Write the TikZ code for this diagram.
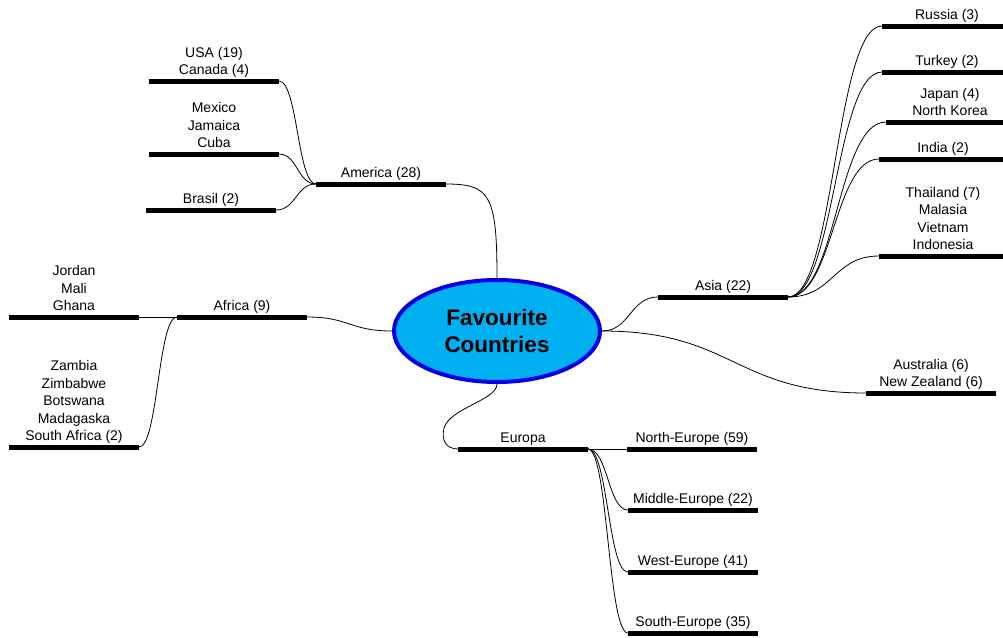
\documentclass[tikz,border=0pt]{standalone}
\usepackage{fontspec}
\setmainfont{Liberation Sans}
\usetikzlibrary{calc,shapes.geometric}
\definecolor{rootfill}{RGB}{0,176,240}
\definecolor{rootline}{RGB}{0,0,230}
\begin{document}
\begin{tikzpicture}[x=1pt,y=-1pt,
  bar/.style={line width=5pt},
  link/.style={line width=0.8pt},
  branch/.style={to path={let \p1=(\tikztostart),\p2=(\tikztotarget) in
     .. controls ({(\x1+\x2)/2},\y1) and ({(\x1+\x2)/2},\y2) .. (\tikztotarget)}},
  lbl/.style={anchor=south,inner sep=0pt,text depth=0pt,align=center,
     font=\fontsize{14}{17.5}\selectfont},
]
\useasboundingbox (0,0) rectangle (1003,637);
\clip (0,0) rectangle (1003,637);

% central topic
\node[ellipse,draw=rootline,fill=rootfill,line width=4pt,
      minimum width=206pt,minimum height=102pt,inner sep=0pt,align=center,
      font=\bfseries\fontsize{22.5}{27}\selectfont] (root) at (497,331) {Favourite\\Countries};

% bar end points
\coordinate (usaL) at (149,81);  \coordinate (usaR) at (279,81);
\coordinate (mexL) at (149,154); \coordinate (mexR) at (279,154);
\coordinate (braL) at (146,210); \coordinate (braR) at (276,210);
\coordinate (amL)  at (316,184); \coordinate (amR)  at (446,184);
\coordinate (joL)  at (9,317);   \coordinate (joR)  at (139,317);
\coordinate (zaL)  at (9,447);   \coordinate (zaR)  at (139,447);
\coordinate (afL)  at (177,317); \coordinate (afR)  at (307,317);
\coordinate (ruL)  at (882,26);  \coordinate (ruR)  at (1012,26);
\coordinate (tuL)  at (882,72);  \coordinate (tuR)  at (1012,72);
\coordinate (jaL)  at (886,122); \coordinate (jaR)  at (1016,122);
\coordinate (inL)  at (879,159); \coordinate (inR)  at (1009,159);
\coordinate (thL)  at (879,256); \coordinate (thR)  at (1009,256);
\coordinate (asL)  at (658,297); \coordinate (asR)  at (788,297);
\coordinate (auL)  at (866,393); \coordinate (auR)  at (996,393);
\coordinate (euL)  at (458,449); \coordinate (euR)  at (588,449);
\coordinate (neL)  at (627,449); \coordinate (neR)  at (757,449);
\coordinate (meL)  at (628,510); \coordinate (meR)  at (758,510);
\coordinate (weL)  at (628,572); \coordinate (weR)  at (758,572);
\coordinate (seL)  at (628,633); \coordinate (seR)  at (758,633);

% connectors
\draw[link] (amR) .. controls (490,184) and (497,195) .. (root.north);
\draw[link] (amL) to[branch] (usaR);
\draw[link] (amL) to[branch] (mexR);
\draw[link] (amL) to[branch] (braR);
\draw[link] (afR) to[branch] (root.west);
\draw[link] (afL) -- (joR);
\draw[link] (afL) to[branch] (zaR);
\draw[link] (root.east) to[branch] (asL);
\draw[link] (root.east) to[branch] (auL);
\draw[link] (asR) to[branch] (ruL);
\draw[link] (asR) to[branch] (tuL);
\draw[link] (asR) to[branch] (jaL);
\draw[link] (asR) to[branch] (inL);
\draw[link] (asR) to[branch] (thL);
\draw[link] (root.south) .. controls (497,400) and (450,408) .. (444,428)
            .. controls (441,440) and (446,449) .. (euL);
\draw[link] (euR) -- (neL);
\draw[link] (euR) to[branch] (meL);
\draw[link] (euR) to[branch] (weL);
\draw[link] (euR) to[branch] (seL);

% topic bars
\foreach \t in {usa,mex,bra,am,jo,za,af,ru,tu,ja,in,th,as,au,eu,ne,me,we,se}
  \draw[bar] (\t L) -- (\t R);

% topic labels
\node[lbl] (usaT) at (214,75)  {USA (19)\\Canada (4)};
\node[lbl] (mexT) at (214,148) {Mexico\\Jamaica\\Cuba};
\node[lbl] (braT) at (211,204) {Brasil (2)};
\node[lbl] (amT)  at (381,178) {America (28)};
\node[lbl] (joT)  at (74,311)  {Jordan\\Mali\\Ghana};
\node[lbl] (zaT)  at (74,441)  {Zambia\\Zimbabwe\\Botswana\\Madagaska\\South Africa (2)};
\node[lbl] (afT)  at (242,311) {Africa (9)};
\node[lbl] (ruT)  at (947,20)  {Russia (3)};
\node[lbl] (tuT)  at (947,66)  {Turkey (2)};
\node[lbl] (jaT)  at (950,116) {Japan (4)\\North Korea};
\node[lbl] (inT)  at (943,153) {India (2)};
\node[lbl] (thT)  at (943,250) {Thailand (7)\\Malasia\\Vietnam\\Indonesia};
\node[lbl] (asT)  at (723,291) {Asia (22)};
\node[lbl] (auT)  at (931,387) {Australia (6)\\New Zealand (6)};
\node[lbl] (euT)  at (523,443) {Europa};
\node[lbl] (neT)  at (692,443) {North-Europe (59)};
\node[lbl] (meT)  at (693,504) {Middle-Europe (22)};
\node[lbl] (weT)  at (693,566) {West-Europe (41)};
\node[lbl] (seT)  at (693,627) {South-Europe (35)};
\end{tikzpicture}
\end{document}
